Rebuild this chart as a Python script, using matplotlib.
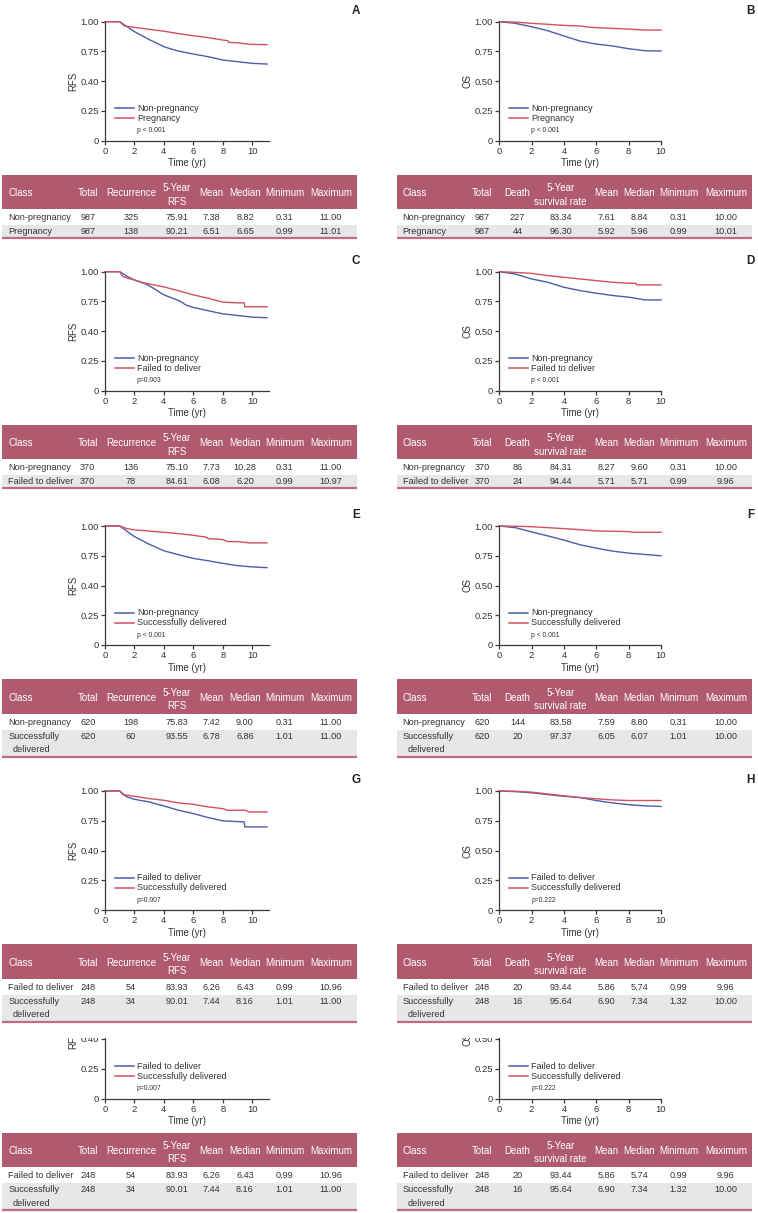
import matplotlib
matplotlib.use('Agg')
import matplotlib.pyplot as plt
from matplotlib import font_manager as fm
from matplotlib.patches import Rectangle

# ---------------- data ----------------
# Panel A (RFS): Non-pregnancy vs Pregnancy
A_t_blue = [0, 1.0, 1.5, 2, 3, 4, 4.5, 5, 6, 7, 8, 9, 10, 11]
A_s_blue = [1.0, 1.0, 0.958, 0.916, 0.85, 0.79, 0.77, 0.753, 0.728, 0.706, 0.678, 0.664, 0.65, 0.644]
A_t_red = [0, 1.0, 1.3, 2, 3, 4, 5, 6, 7, 8, 8.35, 8.4, 9, 9.8, 11]
A_s_red = [1.0, 1.0, 0.965, 0.952, 0.936, 0.92, 0.90, 0.882, 0.866, 0.846, 0.84, 0.826, 0.823, 0.81, 0.807]
# Panel B (OS)
B_t_blue = [0, 1, 2, 3, 4, 5, 6, 7, 8, 9, 10]
B_s_blue = [1.0, 0.986, 0.958, 0.924, 0.88, 0.837, 0.812, 0.796, 0.773, 0.756, 0.754]
B_t_red = [0, 1, 2, 3, 4, 5, 5.5, 6, 7, 8, 9, 10]
B_s_red = [1.0, 0.997, 0.986, 0.978, 0.969, 0.964, 0.955, 0.95, 0.944, 0.938, 0.93, 0.93]
# Panel C (RFS): Non-pregnancy vs Failed to deliver
C_t_blue = [0, 1.0, 1.5, 2, 2.5, 3, 4, 5, 5.5, 6, 7, 8, 9, 10, 11]
C_s_blue = [1.0, 1.0, 0.961, 0.93, 0.91, 0.883, 0.805, 0.758, 0.72, 0.70, 0.672, 0.646, 0.632, 0.618, 0.613]
C_t_red = [0, 1.0, 1.2, 1.5, 2, 2.5, 3, 4, 5, 6, 7, 8, 9, 9.45, 9.5, 11]
C_s_red = [1.0, 1.0, 0.96, 0.947, 0.93, 0.91, 0.897, 0.872, 0.84, 0.805, 0.777, 0.744, 0.738, 0.738, 0.705, 0.705]
# Panel D (OS)
D_t_blue = [0, 1, 2, 3, 4, 5, 6, 7, 8, 9, 10]
D_s_blue = [1.0, 0.98, 0.939, 0.911, 0.869, 0.841, 0.819, 0.80, 0.786, 0.763, 0.763]
D_t_red = [0, 1, 2, 3, 4, 5, 6, 7, 8, 8.45, 8.5, 10]
D_s_red = [1.0, 0.994, 0.986, 0.967, 0.953, 0.939, 0.925, 0.911, 0.903, 0.903, 0.889, 0.889]
# Panel E (RFS): Non-pregnancy vs Successfully delivered
E_t_blue = [0, 1.0, 2, 3, 4, 5, 6, 7, 8, 9, 10, 11]
E_s_blue = [1.0, 1.0, 0.911, 0.847, 0.792, 0.758, 0.728, 0.708, 0.686, 0.667, 0.656, 0.65]
E_t_red = [0, 1.0, 1.5, 2, 3, 4, 5, 6, 6.9, 7, 8, 8.3, 9, 9.8, 11]
E_s_red = [1.0, 1.0, 0.978, 0.967, 0.958, 0.947, 0.936, 0.922, 0.905, 0.894, 0.886, 0.869, 0.869, 0.858, 0.858]
# Panel F (OS)
F_t_blue = [0, 1, 2, 3, 4, 5, 6, 7, 8, 9, 10]
F_s_blue = [1.0, 0.986, 0.95, 0.917, 0.881, 0.842, 0.814, 0.789, 0.772, 0.761, 0.75]
F_t_red = [0, 1, 2, 3, 4, 5, 6, 7, 8, 8.2, 10]
F_s_red = [1.0, 0.998, 0.994, 0.986, 0.978, 0.969, 0.958, 0.956, 0.953, 0.947, 0.947]
# Panel G (RFS): Failed to deliver vs Successfully delivered
G_t_blue = [0, 1.0, 1.2, 1.5, 2, 3, 4, 5, 6, 7, 8, 9, 9.45, 9.5, 11]
G_s_blue = [1.0, 1.0, 0.972, 0.95, 0.93, 0.908, 0.874, 0.838, 0.81, 0.777, 0.749, 0.743, 0.74, 0.698, 0.698]
G_t_red = [0, 1.0, 1.3, 2, 3, 4, 5, 6, 7, 8, 8.3, 9.5, 9.8, 11]
G_s_red = [1.0, 1.0, 0.969, 0.955, 0.936, 0.922, 0.90, 0.888, 0.866, 0.852, 0.838, 0.838, 0.824, 0.824]
# Panel H (OS)
H_t_blue = [0, 1, 2, 3, 4, 5, 6, 7, 8, 9, 10]
H_s_blue = [1.0, 0.995, 0.985, 0.97, 0.955, 0.945, 0.92, 0.90, 0.885, 0.875, 0.87]
H_t_red = [0, 1, 2, 3, 4, 5, 6, 7, 8, 9, 10]
H_s_red = [1.0, 0.998, 0.99, 0.975, 0.96, 0.945, 0.935, 0.925, 0.92, 0.92, 0.92]

X_TICKS = [0, 2, 4, 6, 8, 10]
Y_TICKS = [0, 0.25, 0.5, 0.75, 1.0]
RFS_TICK_LABELS = ['0', '0.25', '0.40', '0.75', '1.00']
OS_TICK_LABELS = ['0', '0.25', '0.50', '0.75', '1.00']

RFS_HEADER = ['Class', 'Total', 'Recurrence', '5-Year\nRFS', 'Mean', 'Median', 'Minimum', 'Maximum']
OS_HEADER = ['Class', 'Total', 'Death', '5-Year\nsurvival rate', 'Mean', 'Median', 'Minimum', 'Maximum']

A_rows = [['Non-pregnancy', '987', '325', '75.91', '7.38', '8.82', '0.31', '11.00'],
          ['Pregnancy', '987', '138', '90.21', '6.51', '6.65', '0.99', '11.01']]
B_rows = [['Non-pregnancy', '987', '227', '83.34', '7.61', '8.84', '0.31', '10.00'],
          ['Pregnancy', '987', '44', '96.30', '5.92', '5.96', '0.99', '10.01']]
C_rows = [['Non-pregnancy', '370', '136', '75.10', '7.73', '10.28', '0.31', '11.00'],
          ['Failed to deliver', '370', '78', '84.61', '6.08', '6.20', '0.99', '10.97']]
D_rows = [['Non-pregnancy', '370', '86', '84.31', '8.27', '9.60', '0.31', '10.00'],
          ['Failed to deliver', '370', '24', '94.44', '5.71', '5.71', '0.99', '9.96']]
E_rows = [['Non-pregnancy', '620', '198', '75.83', '7.42', '9.00', '0.31', '11.00'],
          ['Successfully\ndelivered', '620', '60', '93.55', '6.78', '6.86', '1.01', '11.00']]
F_rows = [['Non-pregnancy', '620', '144', '83.58', '7.59', '8.80', '0.31', '10.00'],
          ['Successfully\ndelivered', '620', '20', '97.37', '6.05', '6.07', '1.01', '10.00']]
G_rows = [['Failed to deliver', '248', '54', '83.93', '6.26', '6.43', '0.99', '10.96'],
          ['Successfully\ndelivered', '248', '34', '90.01', '7.44', '8.16', '1.01', '11.00']]
H_rows = [['Failed to deliver', '248', '20', '93.44', '5.86', '5.74', '0.99', '9.96'],
          ['Successfully\ndelivered', '248', '16', '95.64', '6.90', '7.34', '1.32', '10.00']]

# ---------------- style ----------------
names = {f.name for f in fm.fontManager.ttflist}
NARROW = 'Liberation Sans Narrow' in names
FONT = 'Liberation Sans Narrow' if NARROW else 'Liberation Sans'
plt.rcParams['font.family'] = [FONT, 'DejaVu Sans']
k = 1.0 if not NARROW else 1.12   # size factor

FS_TICK = 6.8 * k
FS_LAB = 6.9 * k
FS_LEG = 6.5 * k
FS_P = 4.9 * k
FS_HEAD = 7.0 * k
FS_BODY = 6.6 * k

BLUE = '#4A5EA8'
RED = '#D3505F'
HEAD = '#AF5A6F'
LINE = '#C06C7E'
GREY = '#E7E7E9'
TXT = '#333333'
AXC = '#3a3a3a'

W, H = 758, 1213
fig = plt.figure(figsize=(W / 100, H / 100), dpi=100)

ov = fig.add_axes([0, 0, 1, 1], zorder=10)
ov.set_xlim(0, W)
ov.set_ylim(H, 0)
ov.axis('off')
ov.patch.set_visible(False)


def px_axes(l, t, w, h):
    return fig.add_axes([l / W, 1 - (t + h) / H, w / W, h / H])


def panel(y0, side, tb, sb, tr, sr, names_, ptext, ylab, yticklabels, letter=None):
    if side == 0:
        l, ppy, xmax = 105.0, 14.73, 11.15
    else:
        l, ppy, xmax = 499.3, 16.17, 10.0
    ax = px_axes(l, y0 - 119, xmax * ppy, 119)
    ax.set_xlim(0, xmax)
    ax.set_ylim(0, 1.0)
    ax.plot(tb, sb, color=BLUE, lw=1.0, solid_joinstyle='miter', clip_on=False)
    ax.plot(tr, sr, color=RED, lw=1.0, solid_joinstyle='miter', clip_on=False)
    for s in ['top', 'right']:
        ax.spines[s].set_visible(False)
    for s in ['left', 'bottom']:
        ax.spines[s].set_linewidth(0.9)
        ax.spines[s].set_color(AXC)
    ax.set_xticks(X_TICKS)
    ax.set_xticklabels([str(v) for v in X_TICKS])
    ax.set_yticks(Y_TICKS)
    ax.set_yticklabels(yticklabels)
    ax.tick_params(length=3, width=0.9, pad=1.5, labelsize=FS_TICK, colors=AXC, labelcolor=TXT)
    ax.patch.set_visible(False)
    w = xmax * ppy
    ax.text(-31.5 / w, 0.5, ylab, transform=ax.transAxes, rotation=90, ha='center',
            va='center', fontsize=FS_LAB, color=TXT)
    ax.text(0.5, -22.6 / 119, 'Time (yr)', transform=ax.transAxes, ha='center',
            va='center', fontsize=FS_LAB, color=TXT)
    # legend drawn inside plot
    lx0 = 10.0 / ppy
    lx1 = 28.5 / ppy
    tx = 31.8 / ppy
    ax.plot([lx0, lx1], [0.272, 0.272], color=BLUE, lw=1.1)
    ax.plot([lx0, lx1], [0.188, 0.188], color=RED, lw=1.1)
    ax.text(tx, 0.272, names_[0], fontsize=FS_LEG, va='center', ha='left', color=TXT)
    ax.text(tx, 0.188, names_[1], fontsize=FS_LEG, va='center', ha='left', color=TXT)
    ax.text(tx, 0.084, ptext, fontsize=FS_P, va='center', ha='left', color=TXT)
    if letter:
        ov.text(356 if side == 0 else 750.5, y0 - 130, letter, fontsize=8.5,
                fontweight='bold', ha='center', va='center', color='#222222', zorder=5)
    return ax


LEFT_COLS = [(8.3, 'left'), (87.7, 'center'), (131, 'center'), (176.7, 'center'),
             (211.7, 'center'), (245, 'center'), (284.7, 'center'), (331, 'center')]
RIGHT_COLS = [(402.7, 'left'), (482.0, 'center'), (517.5, 'center'), (560.7, 'center'),
              (606.7, 'center'), (639.5, 'center'), (678.5, 'center'), (725.8, 'center')]


def table(y0, side, header, rows):
    xl, xr = (2, 357) if side == 0 else (397, 752)
    cols = LEFT_COLS if side == 0 else RIGHT_COLS
    three = '\n' in rows[1][0]
    bottom = y0 + (111.5 if three else 97.5)
    ov.add_patch(Rectangle((xl, y0 + 34), xr - xl, 34.5, facecolor=HEAD, edgecolor='none', zorder=2))
    ov.add_patch(Rectangle((xl, y0 + 68.5), xr - xl, 16, facecolor='white', edgecolor='none', zorder=2))
    ov.add_patch(Rectangle((xl, y0 + 84.5), xr - xl, bottom - (y0 + 84.5), facecolor=GREY,
                           edgecolor='none', zorder=2))
    ov.plot([xl, xr], [bottom, bottom], color=LINE, lw=1.6, zorder=3, solid_capstyle='butt')
    for (x, ha), h in zip(cols, header):
        if '\n' in h:
            a, b = h.split('\n')
            ov.text(x, y0 + 47.6, a, ha='center', va='center', fontsize=FS_HEAD, color='white', zorder=4)
            ov.text(x, y0 + 61.0, b, ha='center', va='center', fontsize=FS_HEAD, color='white', zorder=4)
        else:
            ov.text(x, y0 + 52.6, h, ha=ha, va='center', fontsize=FS_HEAD, color='white', zorder=4)
    for i, row in enumerate(rows):
        yy = y0 + 77.3 + 13.8 * i
        for (x, ha), v in zip(cols, row):
            if '\n' in v:
                a, b = v.split('\n')
                ov.text(x, yy, a, ha=ha, va='center', fontsize=FS_BODY, color=TXT, zorder=4)
                ov.text(x + 4.5, yy + 13.5, b, ha=ha, va='center', fontsize=FS_BODY, color=TXT, zorder=4)
            else:
                ov.text(x, yy, v, ha=ha, va='center', fontsize=FS_BODY, color=TXT, zorder=4)


Y0 = [140.7, 390.7, 645.0, 910.0, 1098.5]

panel(Y0[0], 0, A_t_blue, A_s_blue, A_t_red, A_s_red, ['Non-pregnancy', 'Pregnancy'], 'p < 0.001', 'RFS', RFS_TICK_LABELS, 'A')
panel(Y0[0], 1, B_t_blue, B_s_blue, B_t_red, B_s_red, ['Non-pregnancy', 'Pregnancy'], 'p < 0.001', 'OS', OS_TICK_LABELS, 'B')
table(Y0[0], 0, RFS_HEADER, A_rows)
table(Y0[0], 1, OS_HEADER, B_rows)

panel(Y0[1], 0, C_t_blue, C_s_blue, C_t_red, C_s_red, ['Non-pregnancy', 'Failed to deliver'], 'p=0.003', 'RFS', RFS_TICK_LABELS, 'C')
panel(Y0[1], 1, D_t_blue, D_s_blue, D_t_red, D_s_red, ['Non-pregnancy', 'Failed to deliver'], 'p < 0.001', 'OS', OS_TICK_LABELS, 'D')
table(Y0[1], 0, RFS_HEADER, C_rows)
table(Y0[1], 1, OS_HEADER, D_rows)

panel(Y0[2], 0, E_t_blue, E_s_blue, E_t_red, E_s_red, ['Non-pregnancy', 'Successfully delivered'], 'p < 0.001', 'RFS', RFS_TICK_LABELS, 'E')
panel(Y0[2], 1, F_t_blue, F_s_blue, F_t_red, F_s_red, ['Non-pregnancy', 'Successfully delivered'], 'p < 0.001', 'OS', OS_TICK_LABELS, 'F')
table(Y0[2], 0, RFS_HEADER, E_rows)
table(Y0[2], 1, OS_HEADER, F_rows)

panel(Y0[3], 0, G_t_blue, G_s_blue, G_t_red, G_s_red, ['Failed to deliver', 'Successfully delivered'], 'p=0.007', 'RFS', RFS_TICK_LABELS, 'G')
panel(Y0[3], 1, H_t_blue, H_s_blue, H_t_red, H_s_red, ['Failed to deliver', 'Successfully delivered'], 'p=0.222', 'OS', OS_TICK_LABELS, 'H')

# repeated (cropped) copy of G/H at the bottom
panel(Y0[4], 0, G_t_blue, G_s_blue, G_t_red, G_s_red, ['Failed to deliver', 'Successfully delivered'], 'p=0.007', 'RFS', RFS_TICK_LABELS)
panel(Y0[4], 1, H_t_blue, H_s_blue, H_t_red, H_s_red, ['Failed to deliver', 'Successfully delivered'], 'p=0.222', 'OS', OS_TICK_LABELS)
ov.add_patch(Rectangle((0, 941), W, 1038 - 941, facecolor='white', edgecolor='none', zorder=1))

table(Y0[3], 0, RFS_HEADER, G_rows)
table(Y0[3], 1, OS_HEADER, H_rows)
table(Y0[4], 0, RFS_HEADER, G_rows)
table(Y0[4], 1, OS_HEADER, H_rows)

fig.savefig('out.png', dpi=100, facecolor='white')
